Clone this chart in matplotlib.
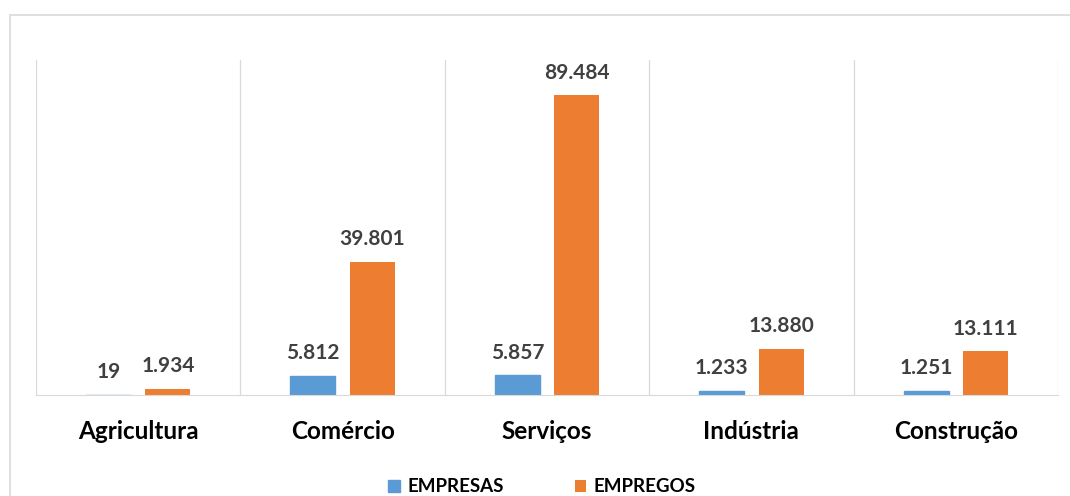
import matplotlib
matplotlib.use('Agg')
from matplotlib import pyplot as plt
from matplotlib.patches import Rectangle
import numpy as np

setores = ['Agricultura', 'Comércio', 'Serviços', 'Indústria', 'Construção']
empresas = [19, 5812, 5857, 1233, 1251]
empregos = [1934, 39801, 89484, 13880, 13111]

cor_empresas = '#5B9BD5'
cor_empregos = '#ED7D31'
cor_grade = '#D9D9D9'

plt.rcParams['font.family'] = ['Lato', 'DejaVu Sans']


def fmt_pt(v):
    # separador de milhar com ponto
    return '{:,}'.format(v).replace(',', '.')


fig = plt.figure(figsize=(10.7, 4.96), dpi=100)
ax = fig.add_axes([36 / 1070, 101 / 496, 1022 / 1070, 335 / 496])

x = np.arange(len(setores))
larg = 0.22
desl = 0.145

# contorno fino na mesma cor para que barras muito baixas ainda aparecam
b1 = ax.bar(x - desl, empresas, larg, color=cor_empresas,
            edgecolor=cor_empresas, lw=1.0, label='EMPRESAS')
b2 = ax.bar(x + desl, empregos, larg, color=cor_empregos, label='EMPREGOS')

for barras, vals in ((b1, empresas), (b2, empregos)):
    for b, v in zip(barras, vals):
        ax.annotate(fmt_pt(v), (b.get_x() + b.get_width() / 2, v),
                    xytext=(0, 9), textcoords='offset points',
                    ha='center', va='bottom', fontsize=15,
                    fontweight='bold', color='#404040')

ax.set_xlim(-0.5, len(setores) - 0.5)
ax.set_ylim(0, 100000)
ax.set_yticks([])
ax.set_xticks(x)
ax.set_xticklabels(setores, fontsize=17.5, fontweight='bold', color='#000000')
ax.tick_params(axis='x', length=0, pad=18)

for s in ('top', 'right', 'left'):
    ax.spines[s].set_visible(False)
ax.spines['bottom'].set_color(cor_grade)

# linhas verticais entre categorias
for xv in np.arange(-0.5, len(setores) + 0.5, 1.0):
    ax.axvline(xv, color=cor_grade, lw=0.9, zorder=0)

leg = fig.legend(handles=[b1, b2], loc='center',
                 bbox_to_anchor=(542 / 1070, 9 / 496), ncol=2, frameon=False,
                 handlelength=0.6, handleheight=0.6, handletextpad=0.4,
                 columnspacing=3.8, prop={'weight': 'bold', 'size': 13.5})

fig.patches.append(Rectangle((10 / 1070, -0.1), 1.2, 1.1 - 15 / 496,
                             transform=fig.transFigure, fill=False,
                             edgecolor='#D9D9D9', lw=1.2))

fig.savefig('out.png', dpi=100, facecolor='white')
